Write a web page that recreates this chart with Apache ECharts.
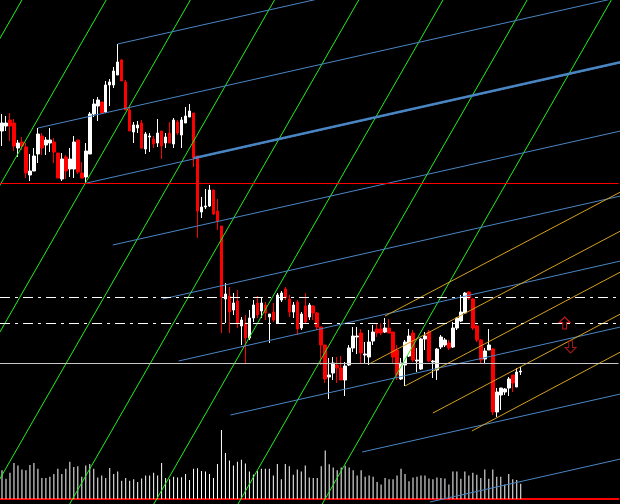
<!DOCTYPE html>
<html>
<head>
<meta charset="utf-8" />
<title>chart</title>
<script src="https://cdn.jsdelivr.net/npm/echarts@6/dist/echarts.min.js"></script>
<style>
    html, body { margin: 0; padding: 0; background: #000; }
    #chart { width: 620px; height: 504px; }
</style>
</head>
<body>
<div id="chart"></div>
<script type="text/javascript">
    // bar slots on the screen (131 drawn bars + empty space on the right)
    var slots = 155;
    var bars = [];
    for (var n = 0; n < slots; n++) bars.push('bar ' + n);

    var open = [1.1173,1.1178,1.1184,1.1181,1.1156,1.1162,1.1157,1.1129,1.1133,1.1150,
        1.1168,1.1159,1.1161,1.1162,1.1151,1.1125,1.1147,1.1135,1.1135,1.1164,
        1.1131,1.1127,1.1150,1.1190,1.1198,1.1202,1.1192,1.1219,1.1219,1.1229,
        1.1244,1.1222,1.1194,1.1172,1.1176,1.1181,1.1155,1.1167,1.1165,1.1161,
        1.1173,1.1161,1.1171,1.1160,1.1182,1.1169,1.1181,1.1187,1.1191,1.1148,
        1.1092,1.1097,1.1098,1.1114,1.1093,1.1078,1.1005,1.1008,1.0994,1.1003,
        1.0978,1.0981,1.0966,1.0986,1.1001,1.0993,1.0999,1.0987,1.0992,1.0981,
        1.1004,1.1015,1.1005,1.0992,1.1002,1.0976,1.0998,1.0987,1.0998,1.0991,
        1.0977,1.0959,1.0927,1.0931,1.0939,1.0936,1.0924,1.0939,1.0956,1.0967,
        1.0971,1.0949,1.0947,1.0963,1.0975,1.0975,1.0972,1.0976,1.0972,1.0954,
        1.0925,1.0939,1.0948,1.0971,1.0943,1.0935,1.0965,1.0972,1.0942,1.0934,
        1.0957,1.0959,1.0961,1.0957,1.0976,1.0983,1.0991,1.1012,1.1005,1.0978,
        1.0964,1.0945,1.0954,1.0955,1.0892,1.0909,1.0912,1.0916,1.0929,1.0917,
        1.0932];
    var close = [1.1181,1.1181,1.1178,1.1158,1.1161,1.1158,1.1131,1.1133,1.1148,1.1170,
        1.1156,1.1164,1.1164,1.1152,1.1126,1.1145,1.1133,1.1145,1.1162,1.1132,
        1.1126,1.1153,1.1190,1.1200,1.1204,1.1191,1.1219,1.1222,1.1233,1.1242,
        1.1223,1.1194,1.1173,1.1179,1.1179,1.1156,1.1170,1.1168,1.1160,1.1171,
        1.1158,1.1167,1.1161,1.1184,1.1171,1.1184,1.1188,1.1193,1.1146,1.1093,
        1.1097,1.1098,1.1114,1.1090,1.1083,1.1007,1.1010,1.0992,1.1001,1.0981,
        1.0984,1.0966,1.0986,1.0999,1.0989,1.1001,1.0991,1.0990,1.0984,1.1009,
        1.1011,1.1006,1.0992,1.0999,1.0975,1.0990,1.0982,1.0999,1.0991,1.0977,
        1.0959,1.0925,1.0929,1.0941,1.0936,1.0924,1.0938,1.0956,1.0968,1.0968,
        1.0951,1.0950,1.0962,1.0972,1.0971,1.0971,1.0976,1.0971,1.0947,1.0929,
        1.0941,1.0962,1.0968,1.0944,1.0944,1.0965,1.0968,1.0943,1.0943,1.0955,
        1.0967,1.0964,1.0956,1.0976,1.0986,1.0992,1.1011,1.1006,1.0976,1.0964,
        1.0944,1.0953,1.0959,1.0892,1.0912,1.0916,1.0915,1.0925,1.0921,1.0932,
        1.0933];
    var low = [1.1158,1.1173,1.1163,1.1153,1.1147,1.1154,1.1126,1.1123,1.1133,1.1141,
        1.1149,1.1149,1.1152,1.1141,1.1126,1.1123,1.1125,1.1127,1.1126,1.1130,
        1.1126,1.1121,1.1150,1.1187,1.1183,1.1191,1.1191,1.1198,1.1216,1.1229,
        1.1223,1.1194,1.1173,1.1161,1.1171,1.1155,1.1150,1.1152,1.1156,1.1157,
        1.1145,1.1156,1.1161,1.1156,1.1169,1.1156,1.1181,1.1187,1.1137,1.1066,
        1.1086,1.1095,1.1097,1.1089,1.1074,1.0971,1.0981,1.0971,1.0989,1.0976,
        1.0959,1.0941,1.0964,1.0982,1.0986,1.0986,1.0984,1.0961,1.0982,1.0981,
        1.1002,1.1004,1.0987,1.0986,1.0969,1.0974,1.0981,1.0984,1.0984,1.0974,
        1.0939,1.0921,1.0905,1.0924,1.0921,1.0924,1.0908,1.0938,1.0952,1.0950,
        1.0941,1.0941,1.0939,1.0959,1.0967,1.0969,1.0971,1.0971,1.0941,1.0924,
        1.0924,1.0918,1.0947,1.0942,1.0932,1.0934,1.0954,1.0942,1.0926,1.0924,
        1.0955,1.0957,1.0954,1.0956,1.0974,1.0982,1.0990,1.1004,1.0974,1.0962,
        1.0941,1.0941,1.0954,1.0889,1.0887,1.0894,1.0909,1.0908,1.0912,1.0917,
        1.0929];
    var high = [1.1190,1.1188,1.1191,1.1185,1.1164,1.1167,1.1161,1.1150,1.1156,1.1176,
        1.1171,1.1167,1.1176,1.1166,1.1151,1.1151,1.1149,1.1156,1.1168,1.1164,
        1.1142,1.1161,1.1192,1.1205,1.1207,1.1202,1.1223,1.1225,1.1237,1.1260,
        1.1245,1.1224,1.1197,1.1182,1.1183,1.1184,1.1172,1.1171,1.1168,1.1185,
        1.1173,1.1171,1.1182,1.1186,1.1184,1.1187,1.1197,1.1200,1.1191,1.1148,
        1.1107,1.1115,1.1119,1.1114,1.1105,1.1078,1.1021,1.1017,1.1011,1.1014,
        1.0987,1.0989,1.0994,1.1004,1.1008,1.1007,1.1002,1.0990,1.1001,1.1011,
        1.1013,1.1017,1.1009,1.1002,1.1004,1.0992,1.1011,1.1001,1.0999,1.0992,
        1.0977,1.0959,1.0946,1.0947,1.0947,1.0948,1.0942,1.0959,1.0977,1.0977,
        1.0975,1.0962,1.0974,1.0979,1.0981,1.0981,1.0986,1.0985,1.0972,1.0959,
        1.0946,1.0964,1.0975,1.0974,1.0956,1.0966,1.0972,1.0974,1.0944,1.0956,
        1.0969,1.0966,1.0964,1.0982,1.0987,1.1009,1.1012,1.1013,1.1006,1.0979,
        1.0965,1.0956,1.0975,1.0956,1.0916,1.0916,1.0916,1.0927,1.0929,1.0936,
        1.0937];
    var volume = [1100,770,1000,1370,1280,1120,1100,1300,1370,1150,
        800,800,850,950,1150,950,1150,1420,1220,1250,
        850,1280,1330,1150,820,900,800,1180,950,1050,
        700,800,700,750,650,780,900,900,1000,900,
        1370,800,750,850,820,830,950,720,1150,1170,
        1070,1050,950,800,1330,2630,1750,1470,1280,1420,
        1500,1350,1050,930,1070,1150,1150,1150,900,1330,
        750,1330,1250,920,1120,1050,1280,820,800,800,
        1250,1850,1320,1200,1100,1200,1270,1200,1100,900,
        1100,850,900,850,650,550,800,750,750,900,
        1150,950,680,820,850,900,900,780,750,820,
        800,780,550,1050,1050,770,1050,900,1000,920,
        800,1120,770,1120,850,850,550,950,750,720,
        580];

    // drawn objects: [bar, price, bar, price]
    var greenLines = [[-67.45,1.0800,5.0,1.1304],[-46.35,1.0800,26.1,1.1304],[-25.25,1.0800,47.2,1.1304],
        [-4.15,1.0800,68.3,1.1304],[16.95,1.0800,89.4,1.1304],[38.05,1.0800,110.5,1.1304],
        [59.15,1.0800,131.6,1.1304],[80.25,1.0800,152.7,1.1304]];
    var blueLines = [[29,1.1260,155,1.1373],[9,1.1176,155,1.1307],[21.25,1.1121,155,1.1241],
        [27.75,1.1059,155,1.1173],[40.25,1.1005,155,1.1108],[44.25,1.0943,155,1.1043],
        [57.25,1.0889,155,1.0977],[90.25,1.0852,155,1.0910],[107.25,1.0802,155,1.0845]];
    var blueThick = [[48,1.1146,155,1.1242]];
    var orangeLines = [[96,1.0988,155,1.1112],[92,1.0940,155,1.1073],[101,1.0918,155,1.1032],
        [108,1.0891,155,1.0990],[117.75,1.0873,155,1.0952]];
    var redLevel = 1.11205;
    var dashLevels = [1.10065, 1.09805];
    var greyLevel = 1.09405;
    var arrowUp = [141, 1.0981];
    var arrowDown = [142.5, 1.0957];

    var candles = [];
    for (var i = 0; i < open.length; i++) {
        candles.push([open[i], close[i], low[i], high[i]]);
    }

    function lineSeries(list, color, width) {
        return list.map(function (l) {
            return {
                type: 'line',
                xAxisIndex: 1,
                yAxisIndex: 0,
                data: [[l[0], l[1]], [l[2], l[3]]],
                symbol: 'none',
                silent: true,
                z: 4,
                lineStyle: { color: color, width: width }
            };
        });
    }

    var marks = [{ yAxis: redLevel, lineStyle: { color: '#ff0000', width: 1, type: 'solid' } },
        { yAxis: greyLevel, lineStyle: { color: '#c8c8c8', width: 1, type: 'solid' } }];
    dashLevels.forEach(function (v) {
        marks.push({ yAxis: v, lineStyle: { color: '#ffffff', width: 1, type: [10, 5, 3, 5] } });
    });

    var series = [{
        type: 'candlestick',
        xAxisIndex: 0,
        yAxisIndex: 0,
        data: candles,
        barWidth: 3,
        z: 3,
        itemStyle: {
            color: '#ffffff',
            color0: '#ff0000',
            borderColor: '#ffffff',
            borderColor0: '#ff0000',
            borderWidth: 1
        },
        markLine: {
            silent: true,
            symbol: 'none',
            precision: 5,
            label: { show: false },
            data: marks
        }
    }, {
        type: 'bar',
        xAxisIndex: 2,
        yAxisIndex: 1,
        data: volume,
        barWidth: 1,
        itemStyle: { color: '#ffffff' }
    }];
    series = series.concat(lineSeries(greenLines, '#1ef01e', 1));
    series = series.concat(lineSeries(blueLines, '#4a86c4', 1));
    series = series.concat(lineSeries(blueThick, '#4a86c4', 2));
    series = series.concat(lineSeries(orangeLines, '#d4a020', 1));
    series.push({
        type: 'scatter',
        xAxisIndex: 1,
        yAxisIndex: 0,
        silent: true,
        z: 5,
        symbol: 'path://M6,0 L12,6 L8,6 L8,13 L4,13 L4,6 L0,6 Z',
        symbolSize: [11, 12],
        data: [
            { value: arrowUp, itemStyle: { color: '#000', borderColor: '#ff2020', borderWidth: 1 } },
            { value: arrowDown, symbolRotate: 180, itemStyle: { color: '#000', borderColor: '#c82020', borderWidth: 1 } }
        ]
    });

    var myChart = echarts.init(document.getElementById('chart'));
    myChart.setOption({
        backgroundColor: '#000000',
        animation: false,
        grid: [
            { left: -1.5, right: 1.5, top: 0, bottom: 0 },
            { left: -1.5, right: 1.5, top: 430, bottom: 5 }
        ],
        xAxis: [
            { type: 'category', gridIndex: 0, data: bars, show: false },
            { type: 'value', gridIndex: 0, min: -0.5, max: slots - 0.5, show: false },
            {
                type: 'category', gridIndex: 1, data: bars,
                axisLine: { show: true, lineStyle: { color: '#ff0000', width: 2 } },
                axisTick: { show: false },
                axisLabel: { show: false },
                splitLine: { show: false }
            }
        ],
        yAxis: [
            { type: 'value', gridIndex: 0, min: 1.0800, max: 1.1304, show: false },
            { type: 'value', gridIndex: 1, min: 0, max: 2630, show: false }
        ],
        series: series
    });
</script>
</body>
</html>
